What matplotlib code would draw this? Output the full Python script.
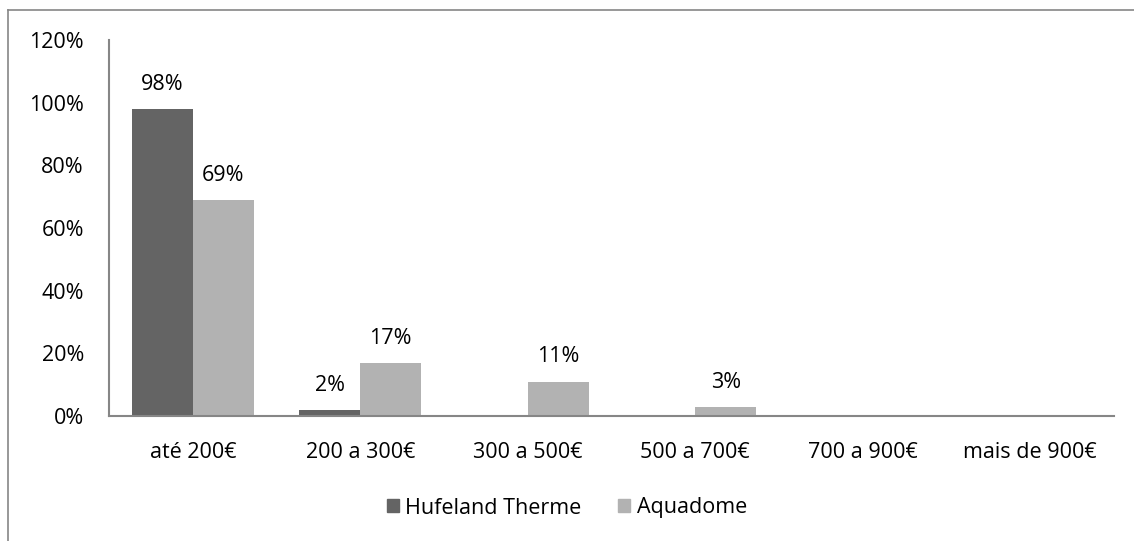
import matplotlib

matplotlib.use("Agg")
import matplotlib.pyplot as plt
import numpy as np
from matplotlib.lines import Line2D
from matplotlib.patches import Patch

categories = ["até 200€", "200 a 300€", "300 a 500€", "500 a 700€",
              "700 a 900€", "mais de 900€"]
hufeland = [98, 2, 0, 0, 0, 0]
aquadome = [69, 17, 11, 3, 0, 0]
series_names = ["Hufeland Therme", "Aquadome"]
yticks = [0, 20, 40, 60, 80, 100, 120]

DARK = "#646464"
LIGHT = "#b2b2b2"
AXIS = "#868686"
FS = 15.5

plt.rcParams["font.family"] = ["Open Sans", "DejaVu Sans"]

fig = plt.figure(figsize=(11.34, 5.41), dpi=100)
fig.patch.set_facecolor("white")

# outer chart frame (left and top edges visible)
fig.add_artist(Line2D([8 / 1134, 8 / 1134], [0, 1 - 10 / 541],
                      transform=fig.transFigure, color=AXIS, lw=1.2))
fig.add_artist(Line2D([8 / 1134, 1], [1 - 10 / 541, 1 - 10 / 541],
                      transform=fig.transFigure, color=AXIS, lw=1.2))

ax = fig.add_axes([109 / 1134, 1 - 416 / 541, 1005 / 1134, 376 / 541])
x = np.arange(len(categories))
w = 61 / 167.5

b1 = ax.bar(x - w / 2, hufeland, w, color=DARK)
b2 = ax.bar(x + w / 2, aquadome, w, color=LIGHT)

for bars, vals in ((b1, hufeland), (b2, aquadome)):
    for bar, v in zip(bars, vals):
        if v > 0:
            ax.text(bar.get_x() + bar.get_width() / 2, v + 4.5, f"{v}%",
                    ha="center", va="bottom", fontsize=FS, color="black")

ax.set_xlim(-0.5, len(categories) - 0.5)
ax.set_ylim(0, 120)
ax.set_yticks(yticks)
ax.set_yticklabels([f"{t}%" for t in yticks])
ax.set_xticks(x)
ax.set_xticklabels(categories)
ax.tick_params(axis="both", length=0, labelsize=FS, colors="black")
ax.tick_params(axis="y", pad=18)
ax.tick_params(axis="x", pad=19)

for side in ("top", "right"):
    ax.spines[side].set_visible(False)
for side in ("left", "bottom"):
    ax.spines[side].set_color(AXIS)
    ax.spines[side].set_linewidth(1.5)

handles = [Patch(color=DARK), Patch(color=LIGHT)]
fig.legend(handles, series_names, loc="center", ncol=2, frameon=False,
           bbox_to_anchor=(567 / 1134, 1 - 508 / 541), fontsize=FS,
           handlelength=0.55, handleheight=0.55, handletextpad=0.3,
           columnspacing=1.7)

fig.savefig("out.png", facecolor="white")
